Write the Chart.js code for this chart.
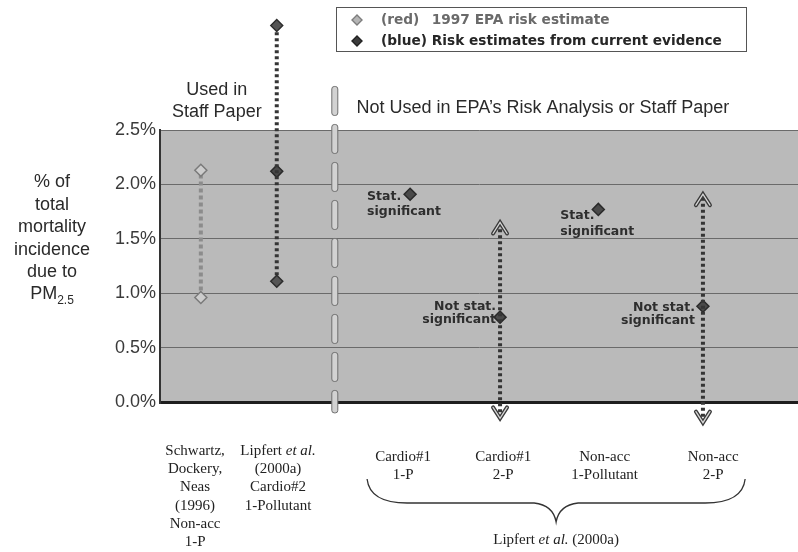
<!DOCTYPE html>
<html><head><meta charset="utf-8">
<script src="https://cdn.jsdelivr.net/npm/chart.js@4/dist/chart.umd.min.js"></script>
<style>html,body{margin:0;padding:0;background:#fff;}canvas{display:block;}</style>
</head><body>
<canvas id="c" width="798" height="552"></canvas>
<script>
// ---- data ----
const studies = [
  'Schwartz, Dockery, Neas (1996) Non-acc 1-P',
  'Lipfert et al. (2000a) Cardio#2 1-Pollutant',
  'Cardio#1 1-P', 'Cardio#1 2-P', 'Non-acc 1-Pollutant', 'Non-acc 2-P'
];
const studyLabelLines = [
  ['Schwartz,', 'Dockery,', 'Neas', '(1996)', 'Non-acc', '1-P'],
  ['Lipfert *et al.*', '(2000a)', 'Cardio#2', '1-Pollutant'],
  ['Cardio#1', '1-P'],
  ['Cardio#1', '2-P'],
  ['Non-acc', '1-Pollutant'],
  ['Non-acc', '2-P']
];
const studyX = [6.4, 18.3, 39.2, 53.3, 68.7, 85.1];     // position of each study on the x axis (0-100)
const labelX = [5.5, 18.5, 38.1, 53.8, 69.7, 86.7];     // position of each study's caption
const redLow  = [0.96, null, null, null, null, null];
const redHigh = [2.13, null, null, null, null, null];
const bluePoint = [null, 2.12, 1.91, 0.78, 1.77, 0.88];
const blueLow   = [null, 1.11, null, -0.15, null, -0.19];
const blueHigh  = [null, 3.46, null, 1.65, null, 1.91];
const blueOpenEnded = [false, false, false, true, false, true];
const significance = [null, null, 'Stat.|significant', 'Not stat.|significant', 'Stat.|significant', 'Not stat.|significant'];
const yTicks = [0, 0.5, 1.0, 1.5, 2.0, 2.5];
const groupLabel = 'Lipfert *et al.* (2000a)';
const legendItems = ['(red)', '1997 EPA risk estimate', '(blue)', 'Risk estimates from current evidence'];
const yTitle = ['% of', 'total', 'mortality', 'incidence', 'due to'];
const headerUsed = ['Used in', 'Staff Paper'];
const headerNotUsed = 'Not Used in EPA\u2019s Risk Analysis or Staff Paper';
const separatorX = 27.4;

// ---- datasets ----
const datasets = [];
studies.forEach((s, i) => {
  if (redLow[i] !== null) {
    datasets.push({
      label: 'red-' + i, showLine: true, clip: false,
      data: [{x: studyX[i], y: redLow[i]}, {x: studyX[i], y: redHigh[i]}],
      borderColor: '#8c8c8c', borderWidth: 4, borderDash: [4, 3],
      pointStyle: 'rectRot', pointRadius: 6,
      pointBackgroundColor: '#cdcdcd', pointBorderColor: '#7a7a7a', pointBorderWidth: 1.5
    });
  }
  if (blueLow[i] !== null) {
    const open = blueOpenEnded[i];
    datasets.push({
      label: 'blue-range-' + i, showLine: true, clip: false,
      data: [{x: studyX[i], y: blueLow[i]}, {x: studyX[i], y: blueHigh[i]}],
      borderColor: '#353535', borderWidth: 4, borderDash: [3, 3],
      pointStyle: 'rectRot', pointRadius: open ? 0 : 6,
      pointBackgroundColor: '#555', pointBorderColor: '#2c2c2c', pointBorderWidth: 1.5
    });
  }
});
datasets.push({
  label: 'blue-points', clip: false,
  data: studies.map((s, i) => bluePoint[i] === null ? null : {x: studyX[i], y: bluePoint[i]}).filter(p => p),
  pointStyle: 'rectRot', pointRadius: 6,
  pointBackgroundColor: '#4a4a4a', pointBorderColor: '#2a2a2a', pointBorderWidth: 1.5
});

// ---- helpers ----
function drawRich(ctx, text, x, y, size, align, color) {
  const parts = text.split('*');
  const fontFor = k => (k % 2 ? 'italic ' : '') + size + 'px "Liberation Serif", serif';
  let w = 0;
  parts.forEach((p, k) => { ctx.font = fontFor(k); w += ctx.measureText(p).width; });
  let cx = align === 'center' ? x - w / 2 : (align === 'right' ? x - w : x);
  ctx.fillStyle = color; ctx.textAlign = 'left'; ctx.textBaseline = 'middle';
  parts.forEach((p, k) => { ctx.font = fontFor(k); ctx.fillText(p, cx, y); cx += ctx.measureText(p).width; });
}
function chevron(ctx, x, y, dir) {
  ctx.save();
  ctx.beginPath();
  ctx.moveTo(x - 7, y + dir * 11); ctx.lineTo(x, y); ctx.lineTo(x + 7, y + dir * 11);
  ctx.lineJoin = 'miter'; ctx.lineCap = 'round';
  ctx.strokeStyle = '#3a3a3a'; ctx.lineWidth = 4; ctx.stroke();
  ctx.strokeStyle = '#d8d8d8'; ctx.lineWidth = 1.3; ctx.stroke();
  ctx.restore();
}
function diamond(ctx, x, y, r, fill, stroke) {
  ctx.beginPath();
  ctx.moveTo(x, y - r); ctx.lineTo(x + r, y); ctx.lineTo(x, y + r); ctx.lineTo(x - r, y); ctx.closePath();
  ctx.fillStyle = fill; ctx.fill(); ctx.strokeStyle = stroke; ctx.lineWidth = 1.4; ctx.stroke();
}

const decor = {
  id: 'decor',
  beforeDraw(chart) {
    const {ctx, chartArea: a} = chart;
    ctx.save();
    ctx.fillStyle = '#bababa';
    ctx.fillRect(a.left, a.top, a.right - a.left, a.bottom - a.top);
    ctx.restore();
  },
  beforeDatasetsDraw(chart) {
    const {ctx, scales: {x, y}} = chart;
    // dashed separator
    const sx = x.getPixelForValue(separatorX);
    const top = y.getPixelForValue(2.9), bot = y.getPixelForValue(-0.1);
    ctx.save();
    for (let yy = top; yy < bot; yy += 38) {
      const h = Math.min(29, bot - yy);
      ctx.beginPath();
      ctx.roundRect(sx - 3, yy, 6, h, 2.5);
      ctx.fillStyle = '#d2d2d2'; ctx.fill();
      ctx.strokeStyle = '#6e6e6e'; ctx.lineWidth = 1; ctx.stroke();
    }
    ctx.restore();
  },
  afterDatasetsDraw(chart) {
    const {ctx, scales: {x, y}} = chart;
    ctx.save();
    studies.forEach((s, i) => {
      if (blueLow[i] === null) return;
      const px = x.getPixelForValue(studyX[i]);
      if (blueOpenEnded[i]) {
        // arrows on open-ended ranges
        chevron(ctx, px, y.getPixelForValue(blueHigh[i]), 1);
        chevron(ctx, px, y.getPixelForValue(blueLow[i]), -1);
      } else {
        // range ends lying outside the plotted range
        [blueLow[i], blueHigh[i]].forEach(v => {
          if (v > y.max || v < y.min) diamond(ctx, px, y.getPixelForValue(v), 6, '#555', '#2c2c2c');
        });
      }
    });
    // significance notes
    const noteStyle = {
      2: {align: 'left', dx: -43, dy: [3, 18]},
      3: {align: 'right', dx: -4, dy: [-10, 3]},
      4: {align: 'left', dx: -38, dy: [6, 22]},
      5: {align: 'right', dx: -8, dy: [1, 14]}
    };
    ctx.font = 'bold 12.5px "DejaVu Sans", sans-serif';
    ctx.fillStyle = '#2e2e2e'; ctx.textBaseline = 'middle';
    significance.forEach((t, i) => {
      if (!t) return;
      const st = noteStyle[i];
      const px = x.getPixelForValue(studyX[i]), py = y.getPixelForValue(bluePoint[i]);
      ctx.textAlign = st.align;
      t.split('|').forEach((line, k) => ctx.fillText(line, px + st.dx, py + st.dy[k]));
    });
    ctx.restore();
  },
  afterDraw(chart) {
    const {ctx, chartArea: a, scales: {x, y}} = chart;
    ctx.save();
    // headers
    ctx.font = '18px "Liberation Sans", Arial, sans-serif';
    ctx.fillStyle = '#2a2a2a'; ctx.textBaseline = 'middle'; ctx.textAlign = 'center';
    const ux = x.getPixelForValue(8.9);
    ctx.fillText(headerUsed[0], ux, a.top - 40);
    ctx.fillText(headerUsed[1], ux, a.top - 18);
    ctx.textAlign = 'left';
    ctx.fillText(headerNotUsed, x.getPixelForValue(30.8), a.top - 22);
    // y title
    ctx.textAlign = 'center';
    const tx = 52; let ty = y.getPixelForValue(2.0) - 2;
    yTitle.forEach(line => { ctx.fillText(line, tx, ty); ty += 22.4; });
    ctx.font = '18px "Liberation Sans", Arial, sans-serif';
    const pmW = ctx.measureText('PM').width;
    ctx.font = '12px "Liberation Sans", Arial, sans-serif';
    const subW = ctx.measureText('2.5').width;
    const sx0 = tx - (pmW + subW) / 2;
    ctx.textAlign = 'left';
    ctx.font = '18px "Liberation Sans", Arial, sans-serif';
    ctx.fillText('PM', sx0, ty);
    ctx.font = '12px "Liberation Sans", Arial, sans-serif';
    ctx.fillText('2.5', sx0 + pmW, ty + 6);
    // study captions
    studies.forEach((s, i) => {
      const lx = x.getPixelForValue(labelX[i]);
      const base = i < 2 ? a.bottom + 49 : a.bottom + 55;
      studyLabelLines[i].forEach((line, k) => drawRich(ctx, line, lx, base + k * 18.2, 15, 'center', '#222'));
    });
    // brace
    const L = x.getPixelForValue(labelX[2]) - 36, R = x.getPixelForValue(labelX[5]) + 32;
    const M = (L + R) / 2, by = a.bottom + 101, topY = a.bottom + 77;
    ctx.beginPath();
    ctx.moveTo(L, topY);
    ctx.bezierCurveTo(L + 2, by - 6, L + 18, by, L + 40, by);
    ctx.lineTo(M - 22, by);
    ctx.quadraticCurveTo(M - 3, by + 2, M, by + 19);
    ctx.quadraticCurveTo(M + 3, by + 2, M + 22, by);
    ctx.lineTo(R - 40, by);
    ctx.bezierCurveTo(R - 18, by, R - 2, by - 6, R, topY);
    ctx.strokeStyle = '#333'; ctx.lineWidth = 1.3; ctx.stroke();
    drawRich(ctx, groupLabel, M, a.bottom + 138, 15, 'center', '#222');
    // legend box
    ctx.fillStyle = '#fff'; ctx.fillRect(336, 7, 410, 44);
    ctx.strokeStyle = '#555'; ctx.lineWidth = 1; ctx.strokeRect(336.5, 7.5, 410, 44);
    diamond(ctx, 357, 20, 5, '#b5b5b5', '#7d7d7d');
    diamond(ctx, 357, 41, 5, '#3c3c3c', '#222');
    ctx.font = 'bold 13.7px "DejaVu Sans", Verdana, sans-serif';
    ctx.textAlign = 'left';
    const blueW = ctx.measureText(legendItems[2] + ' ').width;
    ctx.fillStyle = '#6a6a6a';
    ctx.fillText(legendItems[0], 381, 20);
    ctx.fillText(legendItems[1], 381 + blueW, 20);
    ctx.fillStyle = '#262626';
    ctx.fillText(legendItems[2] + ' ' + legendItems[3], 381, 41);
    ctx.restore();
  }
};

new Chart(document.getElementById('c'), {
  type: 'scatter',
  data: {datasets},
  options: {
    responsive: false, animation: false, devicePixelRatio: 1,
    layout: {autoPadding: false, padding: {top: 130, bottom: 150, left: 0, right: 0}},
    plugins: {legend: {display: false}, tooltip: {enabled: false}},
    scales: {
      x: {type: 'linear', min: 0, max: 100, display: false},
      y: {
        min: 0, max: 2.5,
        afterFit: s => { s.width = 160; },
        afterBuildTicks: s => { s.ticks = yTicks.map(v => ({value: v})); },
        ticks: {
          padding: 4, color: '#3a3a3a',
          font: {family: '"Liberation Sans", Arial, sans-serif', size: 18},
          callback: v => v.toFixed(1) + '%'
        },
        grid: {
          drawTicks: false,
          color: c => c.tick && c.tick.value === 0 ? '#1e1e1e' : '#6a6a6a',
          lineWidth: c => c.tick && c.tick.value === 0 ? 3 : 1
        },
        border: {display: true, color: '#333', width: 2}
      }
    }
  },
  plugins: [decor]
});
</script>
</body></html>
